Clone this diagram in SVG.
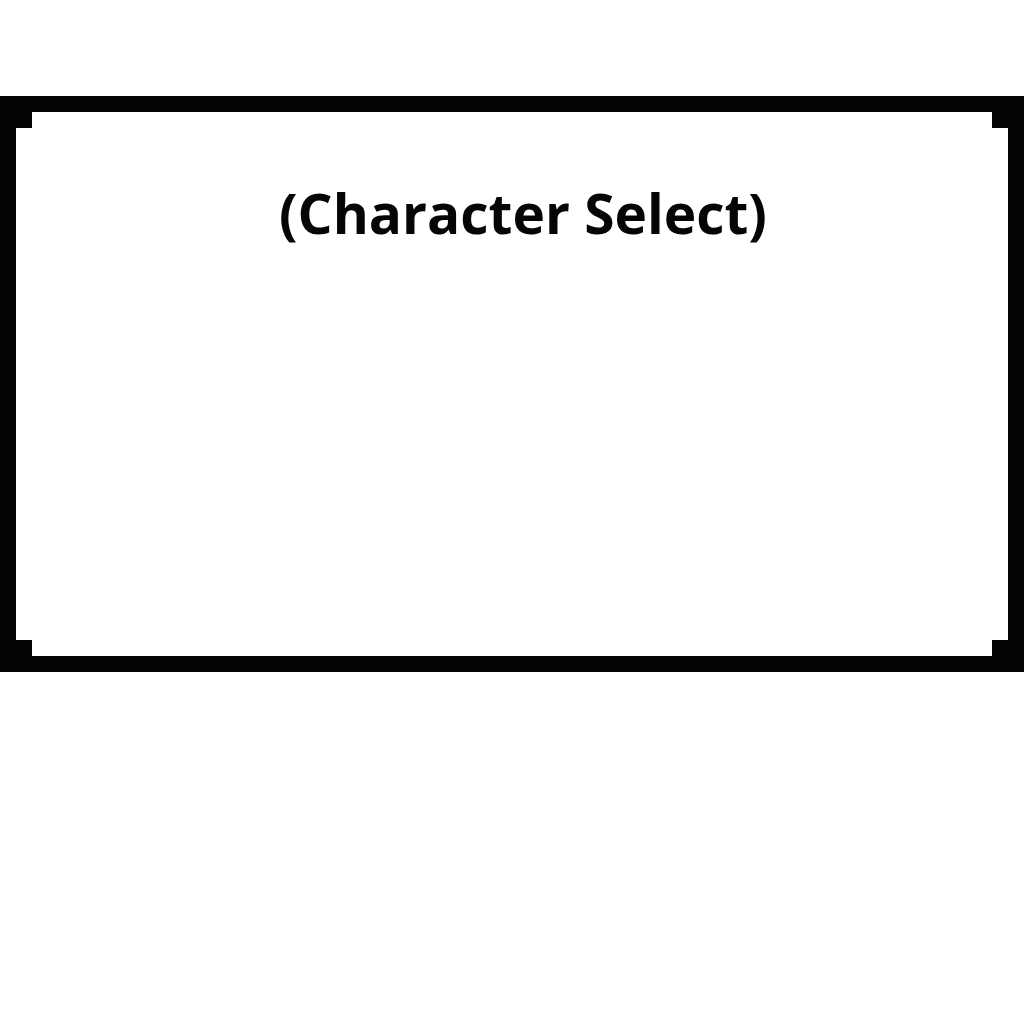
<svg xmlns="http://www.w3.org/2000/svg" width="1024" height="1024" viewBox="0 0 1024 1024">
<style>
.frame{fill:#050505}
.inner{fill:#ffffff}
.title{font-family:"Open Sans","Noto Sans","Liberation Sans",sans-serif;font-weight:700;font-size:55px;fill:#050505}
</style>
<rect width="1024" height="1024" fill="#ffffff"/>
<g id="screen">
<rect class="frame" x="0" y="96" width="1024" height="576"/>
<rect class="inner" x="16" y="112" width="992" height="544"/>
<rect class="frame" x="16" y="112" width="16" height="16"/>
<rect class="frame" x="992" y="112" width="16" height="16"/>
<rect class="frame" x="16" y="640" width="16" height="16"/>
<rect class="frame" x="992" y="640" width="16" height="16"/>
<text class="title" x="523" y="234" text-anchor="middle">(Character Select)</text>
</g>
</svg>
